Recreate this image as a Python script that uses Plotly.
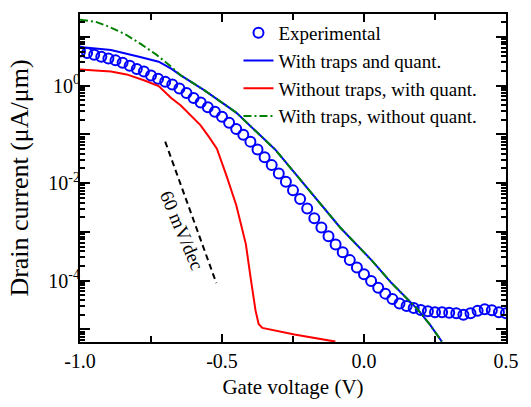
import numpy as np
import plotly.graph_objects as go

# ---------------- data ----------------
exp_v = [-1.000, -0.975, -0.950, -0.925, -0.900, -0.875, -0.850, -0.825, -0.800, -0.775,
         -0.750, -0.725, -0.700, -0.675, -0.650, -0.625, -0.600, -0.575, -0.550, -0.525,
         -0.500, -0.475, -0.450, -0.425, -0.400, -0.375, -0.350, -0.325, -0.300, -0.275,
         -0.250, -0.225, -0.200, -0.175, -0.150, -0.125, -0.100, -0.075, -0.050, -0.025,
         0.000, 0.025, 0.050, 0.075, 0.100, 0.125, 0.150, 0.175, 0.200, 0.225,
         0.250, 0.275, 0.300, 0.325, 0.350, 0.375, 0.400, 0.425, 0.450, 0.475, 0.500]
exp_i = [5.0, 4.7, 4.3, 3.9, 3.6, 3.3, 2.95, 2.57, 2.19, 1.95,
         1.62, 1.38, 1.20, 1.05, 0.87, 0.71, 0.56, 0.45, 0.36, 0.29,
         0.23, 0.174, 0.129, 0.098, 0.071, 0.049, 0.034, 0.0234, 0.0158, 0.0107,
         0.0071, 0.0047, 0.0030, 0.0019, 0.00123, 8.1e-4, 5.5e-4, 3.8e-4, 2.63e-4, 1.86e-4,
         1.35e-4, 9.8e-5, 7.1e-5, 5.4e-5, 4.2e-5, 3.4e-5, 3.0e-5, 2.75e-5, 2.5e-5, 2.34e-5,
         2.24e-5, 2.24e-5, 2.19e-5, 2.14e-5, 2.0e-5, 2.14e-5, 2.4e-5, 2.57e-5, 2.45e-5, 2.24e-5, 2.14e-5]

trapq_v = [-1.000, -0.891, -0.792, -0.723, -0.679, -0.645, -0.563, -0.450, -0.313, -0.201,
           -0.084, 0.028, 0.097, 0.189, 0.233, 0.274]
trapq_i = [6.2, 5.4, 3.9, 3.1, 2.24, 1.62, 0.81, 0.28, 0.049, 0.0081,
           0.00123, 2.57e-4, 8.9e-5, 2.57e-5, 1.23e-5, 5.6e-6]

notrap_v = [-1.000, -0.891, -0.836, -0.775, -0.723, -0.679, -0.645, -0.611, -0.576, -0.546,
            -0.518, -0.484, -0.450, -0.433, -0.416, -0.399, -0.382, -0.371, -0.358, -0.245, -0.101]
notrap_i = [2.14, 1.95, 1.70, 1.29, 0.98, 0.56, 0.39, 0.245, 0.155, 0.089,
            0.051, 0.0141, 0.00355, 0.00141, 5.6e-4, 1.12e-4, 2.45e-5, 1.29e-5, 1.07e-5, 7.8e-6, 5.6e-6]

noquant_v = [-1.000, -0.945, -0.898, -0.839, -0.785, -0.730, -0.679, -0.645, -0.563, -0.450,
             -0.313, -0.201, -0.084, 0.028, 0.097, 0.189, 0.233, 0.274]
noquant_i = [22.4, 20.4, 16.2, 11.2, 7.1, 4.27, 2.45, 1.62, 0.81, 0.28,
             0.049, 0.0081, 0.00123, 2.57e-4, 8.9e-5, 2.57e-5, 1.23e-5, 5.6e-6]

slope_v = [-0.70, -0.52]
slope_i = [0.071, 8.9e-5]
slope_label = "60 mV/dec"

x_ticks = [-1.0, -0.5, 0.0, 0.5]
x_ticktext = ["-1.0", "-0.5", "0.0", "0.5"]
x_minor = [-0.75, -0.25, 0.25]
y_ticks = [1e-5, 1e-4, 1e-3, 1e-2, 1e-1, 1e0, 1e1]
y_ticktext = ["", "10<sup>-4</sup>", "", "10<sup>-2</sup>", "", "10<sup>0</sup>", ""]
y_minor = [m * 10.0 ** k for k in range(-6, 2) for m in range(2, 10)]

FONT = "Liberation Serif"

fig = go.Figure()
fig.add_trace(go.Scatter(
    x=exp_v, y=exp_i, mode="markers", name="Experimental",
    marker=dict(symbol="circle-open", size=10, color="#0000ff", line=dict(width=2, color="#0000ff")),
))
fig.add_trace(go.Scatter(
    x=trapq_v, y=trapq_i, mode="lines", name="With traps and quant.",
    line=dict(color="#0000ff", width=2),
))
fig.add_trace(go.Scatter(
    x=notrap_v, y=notrap_i, mode="lines", name="Without traps, with quant.",
    line=dict(color="#ff0000", width=2),
))
fig.add_trace(go.Scatter(
    x=noquant_v, y=noquant_i, mode="lines", name="With traps, without quant.",
    line=dict(color="#008000", width=2, dash="8px,3px,2px,3px"),
))
fig.add_trace(go.Scatter(
    x=slope_v, y=slope_i, mode="lines", showlegend=False,
    line=dict(color="black", width=2, dash="6px,4px"),
))

fig.add_annotation(
    x=-0.641, y=np.log10(0.00107), text=slope_label, showarrow=False,
    textangle=67, font=dict(family=FONT, size=19, color="black"),
)

fig.update_layout(
    width=531, height=407, autosize=False,
    margin=dict(l=80, r=13, t=14, b=57),
    paper_bgcolor="white", plot_bgcolor="white",
    font=dict(family=FONT, color="black"),
    showlegend=True,
    legend=dict(
        x=0.372, y=1.0, xanchor="left", yanchor="top",
        bgcolor="rgba(0,0,0,0)", font=dict(family=FONT, size=19, color="black"),
        tracegroupgap=0,
    ),
    xaxis=dict(
        range=[-1.0, 0.5], tickmode="array", tickvals=x_ticks, ticktext=x_ticktext,
        ticks="inside", ticklen=8, tickwidth=2, tickcolor="black",
        showline=True, linewidth=2, linecolor="black", mirror="ticks",
        showgrid=False, zeroline=False,
        tickfont=dict(family=FONT, size=20),
        title=dict(text="Gate voltage (V)", font=dict(family=FONT, size=21), standoff=8),
        minor=dict(tickmode="array", tickvals=x_minor, ticks="inside", ticklen=6,
                   tickwidth=2, tickcolor="black", showgrid=False),
    ),
    yaxis=dict(
        type="log", range=[-5.26, 1.47], tickmode="array", tickvals=y_ticks, ticktext=y_ticktext,
        ticks="inside", ticklen=10, tickwidth=2, tickcolor="black",
        showline=True, linewidth=2, linecolor="black", mirror="ticks",
        showgrid=False, zeroline=False, ticklabelstandoff=-6,
        tickfont=dict(family=FONT, size=20),
        title=dict(text="Drain current (\u03bcA/\u03bcm)", font=dict(family=FONT, size=26), standoff=12),
        minor=dict(tickmode="array", tickvals=y_minor, ticks="inside", ticklen=5,
                   tickwidth=1.5, tickcolor="black", showgrid=False),
    ),
)

fig.write_html(
    "out.html",
    config={"displayModeBar": False},
    post_script=(
        "document.documentElement.style.overflow='hidden';"
        "document.body.style.overflow='hidden';"
        "document.body.style.margin='0px';"
    ),
)
